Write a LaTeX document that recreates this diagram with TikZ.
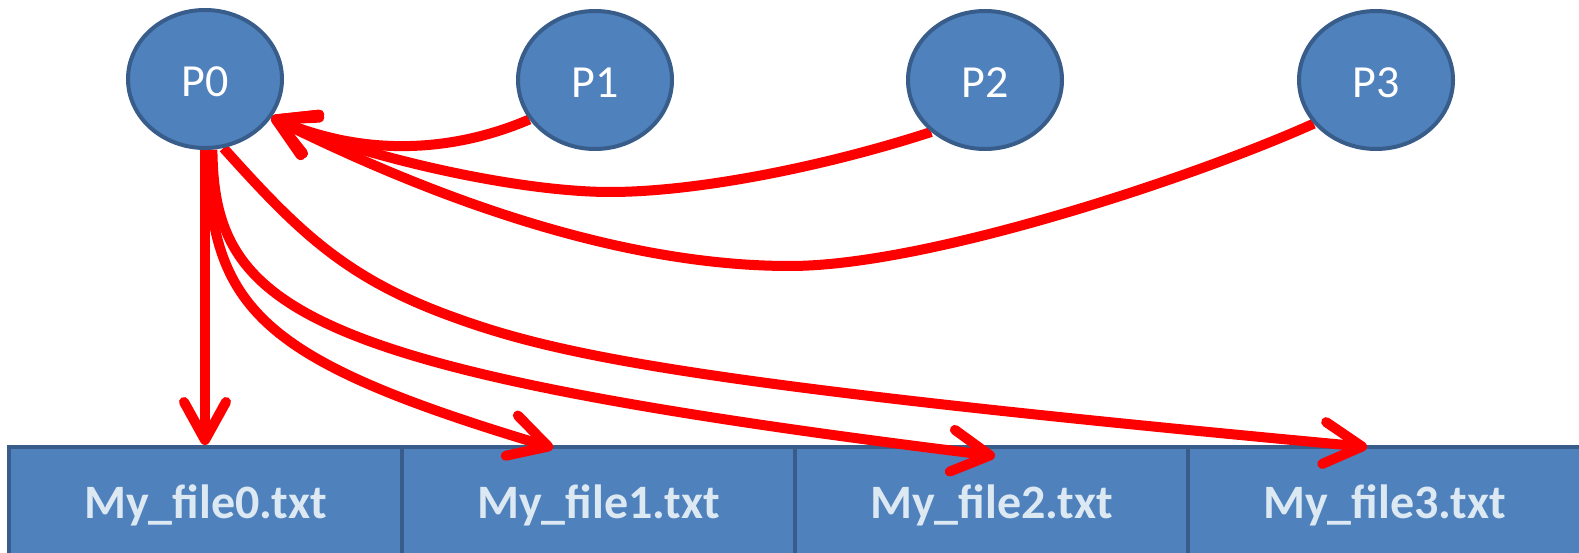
\documentclass[tikz,border=0pt]{standalone}
\usepackage{fontspec}
\setmainfont{Carlito}
\usetikzlibrary{shapes.geometric,arrows.meta}
\definecolor{pfill}{RGB}{79,129,189}
\definecolor{pedge}{RGB}{56,93,138}
\definecolor{ftext}{RGB}{220,232,242}
\pgfdeclarelayer{bg}
\pgfdeclarelayer{mid}
\pgfsetlayers{bg,mid,main}
\tikzset{
  proc/.style={ellipse, draw=pedge, fill=pfill, line width=4pt,
    minimum width=154pt, minimum height=138pt, inner sep=0pt,
    text=white, font=\fontsize{46}{50}\selectfont, text height=36pt, text depth=0pt},
  filebox/.style={rectangle, draw=pedge, fill=pfill, line width=4pt,
    minimum width=393pt, minimum height=114pt, inner sep=0pt,
    text=ftext, font=\bfseries\fontsize{48}{52}\selectfont, text height=29pt, text depth=0pt},
  flow/.style={draw=red, line width=10pt, -{Straight Barb[length=38pt,width=42pt,round]}},
}
\begin{document}
\begin{tikzpicture}[x=1pt,y=-1pt]
\useasboundingbox (0,0) rectangle (1579,553);
\begin{pgfonlayer}{bg}
  \fill[white] (0,0) rectangle (1579,553);
  \node[filebox] (F0) at (205.5,504) {My\_file0.txt};
  \node[filebox] (F1) at (598.5,504) {My\_file1.txt};
  \node[filebox] (F2) at (991.5,504) {My\_file2.txt};
  \node[filebox] (F3) at (1384.5,504) {My\_file3.txt};
\end{pgfonlayer}
\node[proc] (P0) at (205,79) {P0};
\node[proc] (P1) at (595,80) {P1};
\node[proc] (P2) at (985,80) {P2};
\node[proc] (P3) at (1376,80) {P3};
\coordinate (t0) at (P0.-30);
\coordinate (e1) at (553,448);
\coordinate (e2) at (995,456);
\coordinate (e3) at (1367,447);
\begin{pgfonlayer}{mid}
  \draw[flow] (P0.south) -- (P0.south |- F0.north);
  \draw[flow] (P0.-88) .. controls (210,310) and (260,360) .. (e1);
  \draw[flow] (P0.-84) .. controls (214,310) and (300,370) .. (e2);
  \draw[flow] (P0.-75) .. controls (298,231) and (345,278) .. (453,317)
                       .. controls (560,356) and (700,385) .. (e3);
  \draw[flow] (P1.211) .. controls (470,145) and (380,163) .. (t0);
  \draw[flow] (P2.224) .. controls (830,165) and (700,192) .. (610,192)
                       .. controls (520,192) and (370,159) .. (t0);
  \draw[flow] (P3.215) .. controls (1200,175) and (930,266) .. (790,266)
                       .. controls (600,266) and (400,181) .. (t0);
\end{pgfonlayer}
\end{tikzpicture}
\end{document}
